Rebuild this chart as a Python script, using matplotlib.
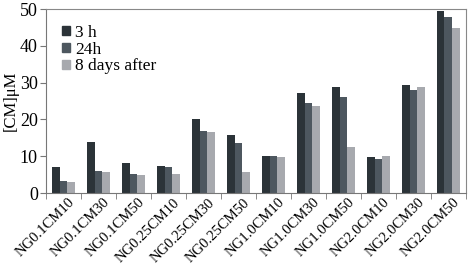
import matplotlib.pyplot as plt
import numpy as np
from matplotlib.patches import Patch

plt.rcParams['font.family'] = ['Liberation Serif', 'DejaVu Serif']

categories = ['NG0.1CM10', 'NG0.1CM30', 'NG0.1CM50', 'NG0.25CM10', 'NG0.25CM30', 'NG0.25CM50',
              'NG1.0CM10', 'NG1.0CM30', 'NG1.0CM50', 'NG2.0CM10', 'NG2.0CM30', 'NG2.0CM50']
h3 = [7.0, 14.0, 8.3, 7.3, 20.0, 15.8, 10.1, 27.3, 28.7, 9.7, 29.3, 49.5]
h24 = [3.3, 6.1, 5.2, 7.1, 17.0, 13.5, 10.1, 24.4, 26.2, 9.4, 28.1, 47.8]
d8 = [3.1, 5.8, 5.0, 5.2, 16.6, 5.8, 9.7, 23.7, 12.6, 10.1, 28.9, 44.8]

colors = ['#2b3338', '#4d575f', '#a7a9ae']
names = ['3 h', '24h', '8 days after']

fig = plt.figure(figsize=(4.71, 2.66), dpi=100)
ax = fig.add_axes([0.098, 0.274, 0.891, 0.692])

x = np.arange(len(categories))
w = 0.22
for k, vals in enumerate([h3, h24, d8]):
    ax.bar(x + (k - 1) * w, vals, w, color=colors[k], label=names[k])

ax.set_xlim(-0.5, len(categories) - 0.5)
ax.set_ylim(0, 50)
ax.set_yticks([0, 10, 20, 30, 40, 50])
ax.tick_params(axis='y', labelsize=13, length=4, color='#777777', pad=2)
ax.set_xticks(x + 0.12)
ax.set_xticklabels(categories, rotation=45, ha='right', rotation_mode='anchor', fontsize=10.5)
ax.tick_params(axis='x', length=0, pad=2)
ax.set_xticks(np.arange(-0.5, len(categories), 1), minor=True)
ax.tick_params(axis='x', which='minor', length=4, color='#777777')
ax.set_ylabel('[CM]\u03bcM', fontsize=12, labelpad=1)

for s in ['left', 'bottom']:
    ax.spines[s].set_color('#777777')
for s in ['top', 'right']:
    ax.spines[s].set_color('#888888')

handles = [Patch(color=c) for c in colors]
ax.legend(handles, names, loc='upper left', frameon=False, fontsize=12.5,
          handlelength=0.45, handleheight=0.45, handletextpad=0.3, labelspacing=0.05,
          borderaxespad=0.5)

fig.savefig('out.png', dpi=100)
